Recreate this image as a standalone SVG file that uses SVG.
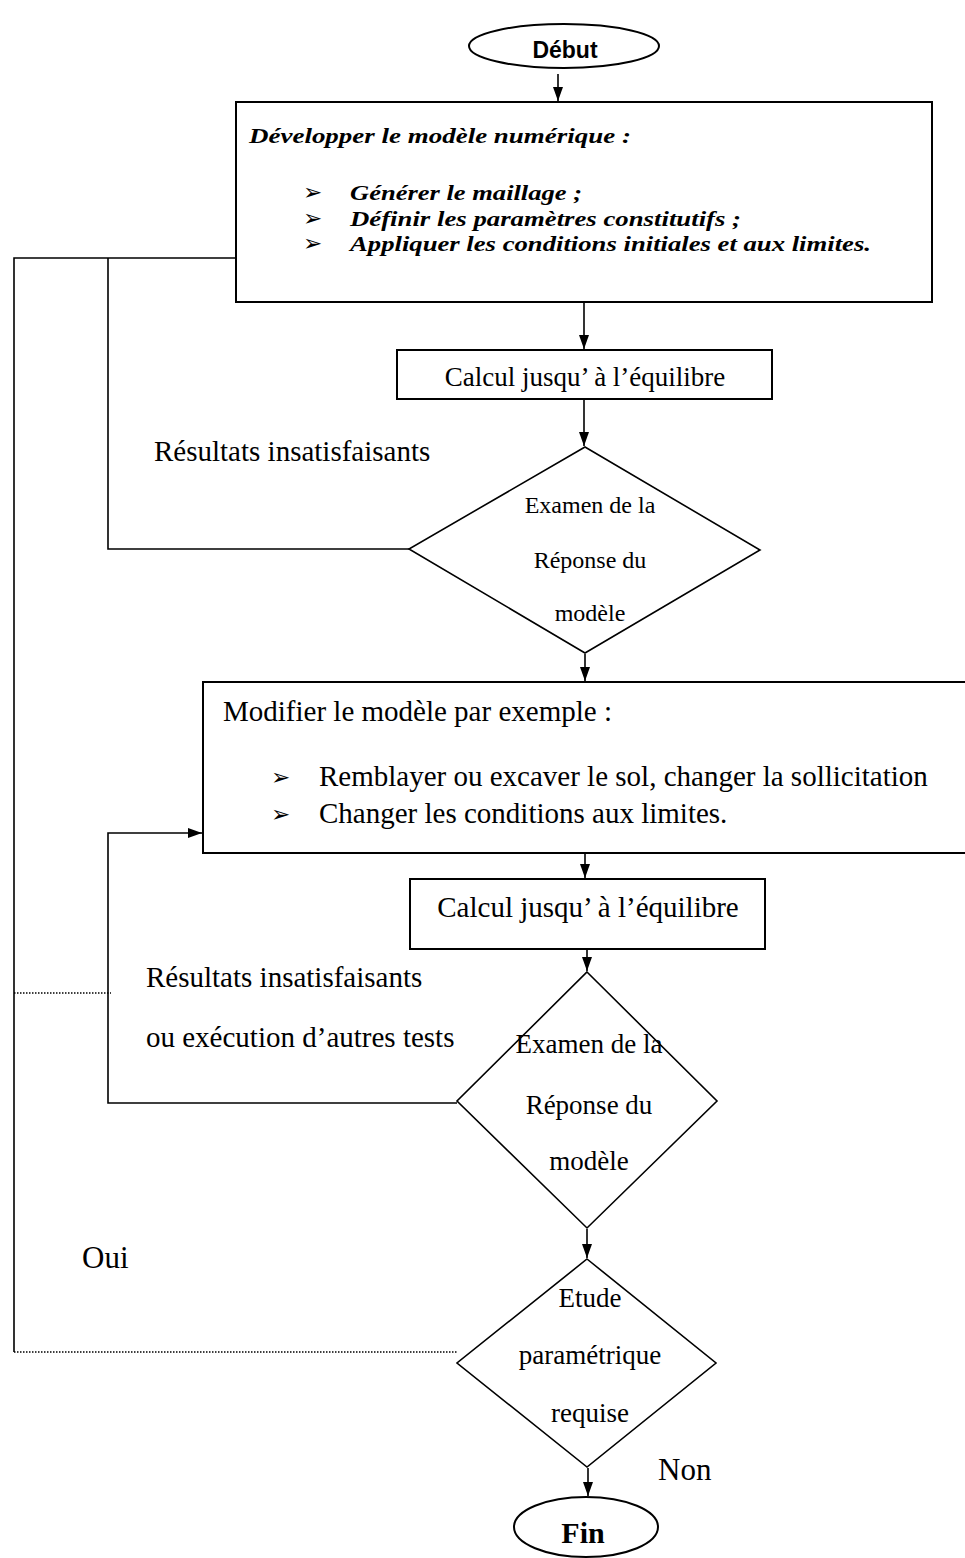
<svg xmlns="http://www.w3.org/2000/svg" width="965" height="1558" viewBox="0 0 965 1558">
<style>
.shape{fill:#fff;stroke:#000;stroke-width:2}
.dia{fill:none;stroke:#000;stroke-width:1.6}
.conn{fill:none;stroke:#000;stroke-width:1.6}
.dot{fill:none;stroke:#000;stroke-width:1.4;stroke-dasharray:1.5 1.5}
.t{font-family:"Liberation Serif","Times New Roman",serif;fill:#000}
.bi{font-family:"Liberation Serif","Times New Roman",serif;font-weight:bold;font-style:italic;fill:#000;font-size:22px}
.bul{font-family:"DejaVu Sans",sans-serif;fill:#000;font-size:23px}
</style>
<defs>
<marker id="arr" viewBox="0 0 14 10" refX="14" refY="5" markerWidth="14" markerHeight="10" markerUnits="userSpaceOnUse" orient="auto">
<path d="M0,0 L14,5 L0,10 z" fill="#000"/>
</marker>
</defs>
<rect width="965" height="1558" fill="#fff"/>

<g id="connectors">
<path class="conn" d="M558,74 V101" marker-end="url(#arr)"/>
<path class="conn" d="M584,303 V349" marker-end="url(#arr)"/>
<path class="conn" d="M584,400 V446" marker-end="url(#arr)"/>
<path class="conn" d="M585,654 V681" marker-end="url(#arr)"/>
<path class="conn" d="M585,854 V878" marker-end="url(#arr)"/>
<path class="conn" d="M587,950 V971" marker-end="url(#arr)"/>
<path class="conn" d="M587,1229 V1258" marker-end="url(#arr)"/>
<path class="conn" d="M588,1468 V1496" marker-end="url(#arr)"/>
<path class="conn" d="M457,1103 H108 V833 H202" marker-end="url(#arr)"/>
<path class="conn" d="M409,549 H108 V258"/>
<path class="conn" d="M236,258 H14 V1352"/>
<path class="dot" d="M14,1352 H457"/>
<path class="dot" d="M14,993 H111"/>
</g>

<g id="debut">
<ellipse class="shape" cx="564" cy="46" rx="95" ry="22" stroke-width="1.6"/>
<text x="565" y="58" text-anchor="middle" font-family="'Liberation Sans',Arial,sans-serif" font-weight="bold" font-size="23">Début</text>
</g>

<g id="developper">
<rect class="shape" x="236" y="102" width="696" height="200"/>
<text class="bi" x="249" y="143" font-size="24" textLength="382" lengthAdjust="spacingAndGlyphs">Développer le modèle numérique :</text>
<text class="bul" x="303" y="200">➢</text>
<text class="bi" x="350" y="200" textLength="232" lengthAdjust="spacingAndGlyphs">Générer le maillage ;</text>
<text class="bul" x="303" y="225.5">➢</text>
<text class="bi" x="350" y="225.5" textLength="391" lengthAdjust="spacingAndGlyphs">Définir les paramètres constitutifs ;</text>
<text class="bul" x="303" y="251">➢</text>
<text class="bi" x="350" y="251" textLength="521" lengthAdjust="spacingAndGlyphs">Appliquer les conditions initiales et aux limites.</text>
</g>

<g id="calcul1">
<rect class="shape" x="397" y="350" width="375" height="49"/>
<text class="t" x="585" y="386" text-anchor="middle" font-size="27">Calcul jusqu’ à l’équilibre</text>
</g>

<g id="label-res1">
<text class="t" x="154" y="461" font-size="29">Résultats insatisfaisants</text>
</g>

<g id="examen1">
<polygon class="dia" points="585,447 760,550 585,653 409,549"/>
<text class="t" x="590" y="513" text-anchor="middle" font-size="24">Examen de la</text>
<text class="t" x="590" y="568" text-anchor="middle" font-size="24">Réponse du</text>
<text class="t" x="590" y="621" text-anchor="middle" font-size="24">modèle</text>
</g>

<g id="modifier">
<rect class="shape" x="203" y="682" width="775" height="171"/>
<text class="t" x="223" y="721" font-size="29">Modifier le modèle par exemple :</text>
<text class="bul" x="271" y="785">➢</text>
<text class="t" x="319" y="786" font-size="29">Remblayer ou excaver le sol, changer la sollicitation</text>
<text class="bul" x="271" y="822">➢</text>
<text class="t" x="319" y="823" font-size="29">Changer les conditions aux limites.</text>
</g>

<g id="calcul2">
<rect class="shape" x="410" y="879" width="355" height="70"/>
<text class="t" x="588" y="917" text-anchor="middle" font-size="29">Calcul jusqu’ à l’équilibre</text>
</g>

<g id="label-res2">
<text class="t" x="146" y="987" font-size="29">Résultats insatisfaisants</text>
<text class="t" x="146" y="1047" font-size="29">ou exécution d’autres tests</text>
</g>

<g id="examen2">
<polygon class="dia" points="587,972 717,1101 587,1228 457,1101"/>
<text class="t" x="589" y="1053" text-anchor="middle" font-size="27">Examen de la</text>
<text class="t" x="589" y="1114" text-anchor="middle" font-size="27">Réponse du</text>
<text class="t" x="589" y="1170" text-anchor="middle" font-size="27">modèle</text>
</g>

<g id="label-oui">
<text class="t" x="82" y="1268" font-size="31">Oui</text>
</g>

<g id="etude">
<polygon class="dia" points="587,1259 716,1363 587,1467 457,1363"/>
<text class="t" x="590" y="1307" text-anchor="middle" font-size="27">Etude</text>
<text class="t" x="590" y="1364" text-anchor="middle" font-size="27">paramétrique</text>
<text class="t" x="590" y="1422" text-anchor="middle" font-size="27">requise</text>
</g>

<g id="label-non">
<text class="t" x="658" y="1480" font-size="31">Non</text>
</g>

<g id="fin">
<ellipse class="shape" cx="586" cy="1527" rx="72" ry="30" stroke-width="1.6"/>
<text class="t" x="583" y="1543" text-anchor="middle" font-size="30" font-weight="bold">Fin</text>
</g>
</svg>
